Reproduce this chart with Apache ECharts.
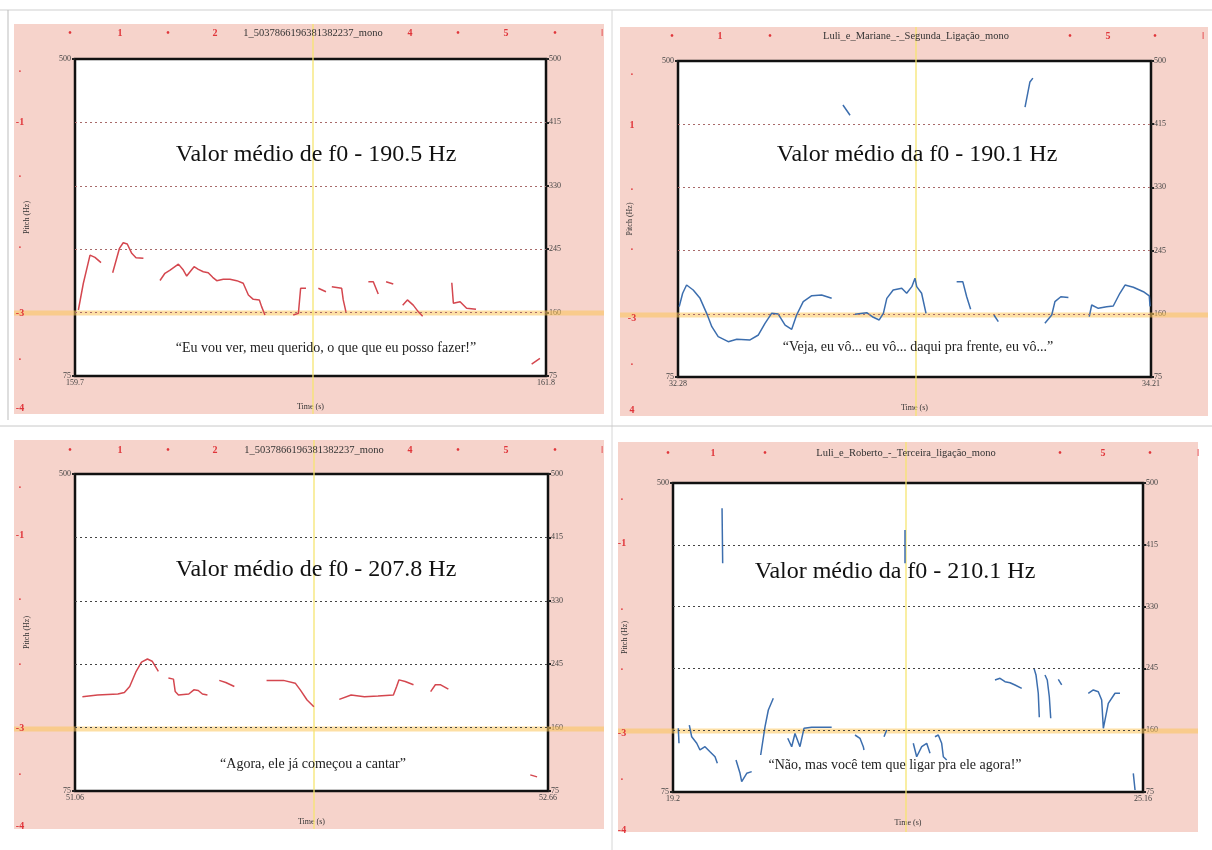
<!DOCTYPE html>
<html lang="pt">
<head>
<meta charset="UTF-8">
<title>Valor médio de f0</title>
<script src="https://cdn.jsdelivr.net/npm/echarts@6/dist/echarts.min.js"></script>
<style>
    html, body { margin: 0; padding: 0; background: #fff; }
    #main { width: 1212px; height: 850px; }
</style>
</head>
<body>
<div id="main"></div>
<script>
// pitch axis (Hz)
const hzTicks = [75, 160, 245, 330, 415, 500];
const hzEnds = [75, 500];
const hzGrid = [160, 245, 330, 415];

// 1 - top left
const tlRange = [159.7, 161.8];
const tlTime = [159.715,159.737,159.767,159.789,159.816, null,
    159.868,159.898,159.915,159.933,159.953,159.972,160.005, null,
    160.079,160.101,160.124,160.161,160.183,160.198,160.213,160.231,160.250,160.272,160.294,
    160.314,160.332,160.361,160.391,160.421,160.450,160.473,160.495,160.522,160.532,160.547, null,
    160.673,160.696,160.706,160.730, null, 160.785,160.819, null,
    160.845,160.889,160.896,160.908, null, 161.008,161.030,161.052, null, 161.087,161.119, null,
    161.161,161.182,161.208,161.231,161.250, null, 161.380,161.387,161.417,161.446,161.488, null,
    161.736,161.773];
const tlHz = [163.5,199,237,234,227, null,
    213.5,246,253.7,252,239.5,233.6,232.8, null,
    203,212.7,217,225,217,209,214.8,221.5,218,214.8,213.5,
    207.3,202.8,204.6,204.6,202.8,199.3,183.6,177.8,177,168,156.8, null,
    156.8,159,192.6,192.6, null, 192.6,188, null,
    194.7,192.6,177,161, null, 201.4,201.4,185, null, 201.4,198.3, null,
    170,177,170,161,155, null, 200,172.5,174.6,165.8,164.4, null,
    91,98.7];

// 2 - top right
const trRange = [32.28, 34.21];
const trTime = [32.285,32.299,32.315,32.342,32.370,32.397,32.418,32.444,32.485,32.520,32.574,
    32.608,32.635,32.662,32.689,32.717,32.744,32.764,32.791,32.826,32.866,32.907, null,
    32.953,32.982, null,
    33.002,33.050,33.077,33.101,33.118,33.132,33.158,33.193,33.213,33.234,33.247,33.254,33.274,33.292, null,
    33.417,33.442,33.458,33.474, null, 33.569,33.587, null, 33.696,33.716,33.728, null,
    33.777,33.805,33.818,33.842,33.873, null,
    33.958,33.968,33.995,34.029,34.056,34.083,34.104,34.138,34.179,34.203,34.206];
const trHz = [169.6,187.6,198.7,192,180.8,160.6,142.7,129.2,122.5,125.7,124.8,
    131.5,147.2,160.6,159.7,144.9,139.1,158.4,176.3,184.3,185.3,180.8, null,
    440.8,427, null,
    159.3,161.5,155.3,151.7,160.6,180.8,192,194.3,187.6,196.5,207.8,196.5,187.6,160.6, null,
    203.2,203.2,183,166, null, 158.4,149.4, null, 438,471.8,477, null,
    147.2,158.4,176.3,183,182, null,
    156.1,171.8,167.4,169.6,170.5,187.6,198.7,195.7,189.7,184,170];

// 3 - bottom left
const blRange = [51.06, 52.66];
const blTime = [51.085,51.136,51.205,51.227,51.245,51.267,51.285,51.305,51.321,51.342, null,
    51.376,51.393,51.399,51.410,51.445,51.462,51.477,51.491,51.508, null,
    51.548,51.570,51.599, null, 51.708,51.765,51.805,51.822,51.845,51.868, null,
    51.954,51.994,52.039,52.085,52.137,52.148,52.156,52.177,52.205, null,
    52.263,52.279,52.297,52.323, null, 52.600,52.623];
const blHz = [201.5,203.8,205,207,215,235.5,247.7,252,249,235.5, null,
    226.4,225,208.3,203.8,205,210.6,209.7,205,203.8, null,
    223.3,220.5,215.1, null, 223.3,223.3,219.6,210.6,197,188, null,
    197.9,203.8,201.5,202.4,203.8,215,224,221.8,217.4, null,
    208.3,217.4,217.4,211.5, null, 96.6,93.9];

// 4 - bottom right
const brRange = [19.2, 25.16];
const brTime = [19.267,19.276, null,
    19.407,19.437,19.501,19.542,19.606,19.669,19.733,19.762, null,
    19.999,20.050,20.071,20.135,20.198, null, 20.312,20.367,20.409,20.472, null,
    20.655,20.705,20.747,20.810,20.861,20.959,21.086,21.212, null,
    21.508,21.571,21.613,21.622, null, 21.876,21.910, null,
    22.142,22.142, null, 19.822,19.830, null,
    22.247,22.290,22.354,22.417,22.459, null, 22.522,22.564,22.607,22.628,22.671, null,
    23.283,23.347,23.410,23.474,23.537,23.622, null, 23.778,23.803,23.832,23.845, null,
    23.917,23.946,23.972,23.990, null, 24.086,24.129, null,
    24.466,24.530,24.593,24.636,24.657,24.720,24.805,24.868, null, 25.037,25.059];
const brHz = [162.6,142, null,
    167.1,151,142,132.8,137.3,130.4,123.5,114.4, null,
    119,100.7,89.2,100.7,103, null, 125.9,164.8,187.8,203.9, null,
    148.9,137.3,155.5,137.3,162.6,164,164,164, null,
    153.4,148.9,137.3,132.8, null, 151,160.3, null,
    435.4,389.5, null, 465.2,389.5, null,
    142,123.5,137.3,142,128.2, null, 151,153.4,142,123.5,119, null,
    229,231.4,226.7,225.3,222.2,217.6, null, 245,236,210.8,177.7, null,
    236,229,206,176.4, null, 230,222.2, null,
    210.8,215.3,213,201.5,162.6,197,210.8,210.8, null, 100.7,77.8];

const serif = '"Liberation Serif", "DejaVu Serif", serif';
const red = '#d4474f';
const blue = '#3c6eae';

const panels = [
    {time: tlTime, hz: tlHz, range: tlRange, color: red, dots: '#a86a6a',
     box: [75, 59, 471, 317], pink: [14, 24, 590, 390], cx: 313, cy: 313,
     file: '1_5037866196381382237_mono', fileY: 33,
     mean: 'Valor médio de f0 - 190.5 Hz', meanPos: [316, 155],
     quote: '“Eu vou ver, meu querido, o que que eu posso fazer!”', quotePos: [326, 348]},
    {time: trTime, hz: trHz, range: trRange, color: blue, dots: '#a86a6a',
     box: [678, 61, 473, 316], pink: [620, 27, 588, 389], cx: 916, cy: 315,
     file: 'Luli_e_Mariane_-_Segunda_Ligação_mono', fileY: 36,
     mean: 'Valor médio da f0 - 190.1 Hz', meanPos: [917, 155],
     quote: '“Veja, eu vô... eu vô... daqui pra frente, eu vô...”', quotePos: [918, 347]},
    {time: blTime, hz: blHz, range: blRange, color: red, dots: '#444',
     box: [75, 474, 473, 317], pink: [14, 440, 590, 389], cx: 314, cy: 729,
     file: '1_5037866196381382237_mono', fileY: 450,
     mean: 'Valor médio de f0 - 207.8 Hz', meanPos: [316, 570],
     quote: '“Agora, ele já começou a cantar”', quotePos: [313, 764]},
    {time: brTime, hz: brHz, range: brRange, color: blue, dots: '#444',
     box: [673, 483, 470, 309], pink: [618, 442, 580, 390], cx: 906, cy: 731,
     file: 'Luli_e_Roberto_-_Terceira_ligação_mono', fileY: 453,
     mean: 'Valor médio da f0 - 210.1 Hz', meanPos: [895, 572],
     quote: '“Não, mas você tem que ligar pra ele agora!”', quotePos: [895, 765]}
];

// red ruler marks in the margins of the scanned page
const topMarks = [
    [33, [[70,'•'],[120,'1'],[168,'•'],[215,'2'],[410,'4'],[458,'•'],[506,'5'],[555,'•'],[602,'ǀ']]],
    [36, [[672,'•'],[720,'1'],[770,'•'],[1070,'•'],[1108,'5'],[1155,'•'],[1203,'ǀ']]],
    [450, [[70,'•'],[120,'1'],[168,'•'],[215,'2'],[410,'4'],[458,'•'],[506,'5'],[555,'•'],[602,'ǀ']]],
    [453, [[668,'•'],[713,'1'],[765,'•'],[1060,'•'],[1103,'5'],[1150,'•'],[1198,'ǀ']]]
];
const sideMarks = [
    [20, [[72,'·'],[122,'-1'],[177,'·'],[248,'·'],[313,'-3'],[360,'·'],[408,'-4']]],
    [632, [[75,'·'],[125,'1'],[190,'·'],[250,'·'],[318,'-3'],[365,'·'],[410,'4']]],
    [20, [[488,'·'],[535,'-1'],[600,'·'],[665,'·'],[728,'-3'],[775,'·'],[826,'-4']]],
    [622, [[500,'·'],[543,'-1'],[610,'·'],[670,'·'],[733,'-3'],[780,'·'],[830,'-4']]]
];

function pairs(t, h) {
    return t.map((v, i) => [v, h[i]]);
}

function init() {
    let myChart = echarts.init(document.getElementById('main'), null, {renderer: 'canvas'});
    let grid = [], xAxis = [], yAxis = [], series = [], graphic = [];

    // scanned page edges
    graphic.push({type: 'line', shape: {x1: 0, y1: 10, x2: 1212, y2: 10}, style: {stroke: '#cfcfcf', lineWidth: 1}, z: -10});
    graphic.push({type: 'line', shape: {x1: 8, y1: 10, x2: 8, y2: 420}, style: {stroke: '#bdbdbd', lineWidth: 1}, z: -10});
    graphic.push({type: 'line', shape: {x1: 612, y1: 10, x2: 612, y2: 850}, style: {stroke: '#d6d6d6', lineWidth: 1}, z: -10});
    graphic.push({type: 'line', shape: {x1: 0, y1: 426, x2: 1212, y2: 426}, style: {stroke: '#c8c8c8', lineWidth: 1}, z: -10});

    panels.forEach((p, i) => {
        const [l, t, w, h] = p.box;
        grid.push({left: l, top: t, width: w, height: h, containLabel: false, outerBoundsMode: 'none',
            show: true, backgroundColor: '#fff', borderColor: '#111', borderWidth: 2.5});
        xAxis.push({
            type: 'value', gridIndex: i, min: p.range[0], max: p.range[1],
            axisLine: {show: false}, axisTick: {show: false}, splitLine: {show: false},
            axisLabel: {customValues: p.range, formatter: v => String(v), fontSize: 8, color: '#444',
                fontFamily: serif, margin: 3},
            name: 'Time (s)', nameLocation: 'middle', nameGap: 27,
            nameTextStyle: {fontSize: 8, color: '#333', fontFamily: serif}
        });
        yAxis.push({
            type: 'value', gridIndex: i, min: 75, max: 500, position: 'left',
            axisLine: {show: false}, splitLine: {show: false},
            axisTick: {show: true, customValues: hzEnds, length: 3, lineStyle: {color: '#222', width: 2}},
            axisLabel: {customValues: hzEnds, fontSize: 8, color: '#444', fontFamily: serif, margin: 4},
            name: 'Pitch (Hz)', nameLocation: 'middle', nameRotate: 90, nameGap: 44,
            nameTextStyle: {fontSize: 8, color: '#333', fontFamily: serif}
        });
        yAxis.push({
            type: 'value', gridIndex: i, min: 75, max: 500, position: 'right',
            axisLine: {show: false}, splitLine: {show: false},
            axisTick: {show: true, customValues: hzTicks, length: 3, lineStyle: {color: '#222', width: 2}},
            axisLabel: {customValues: hzTicks, fontSize: 8, color: '#444', fontFamily: serif, margin: 3}
        });
        series.push({
            type: 'line', xAxisIndex: i, yAxisIndex: 2 * i,
            data: pairs(p.time, p.hz),
            showSymbol: false, connectNulls: false, animation: false, silent: true,
            lineStyle: {color: p.color, width: 1.5},
            markLine: {
                silent: true, symbol: 'none', animation: false,
                label: {show: false},
                lineStyle: {type: [2, 3], color: p.dots, width: 1},
                data: hzGrid.map(v => ({yAxis: v}))
            }
        });

        // pink page background
        graphic.push({type: 'rect', shape: {x: p.pink[0], y: p.pink[1], width: p.pink[2], height: p.pink[3]},
            style: {fill: '#f6d3cb'}, z: -5});
        // yellow cursor lines
        graphic.push({type: 'line', shape: {x1: p.pink[0], y1: p.cy, x2: p.pink[0] + p.pink[2], y2: p.cy},
            style: {stroke: 'rgba(252,196,90,0.55)', lineWidth: 5}, z: 1});
        graphic.push({type: 'line', shape: {x1: p.cx, y1: p.pink[1], x2: p.cx, y2: p.pink[1] + p.pink[3]},
            style: {stroke: 'rgba(246,228,110,0.85)', lineWidth: 1.5}, z: 1});
        // file name
        graphic.push({type: 'text', x: p.cx, y: p.fileY, z: 5,
            style: {text: p.file, fill: '#333', font: '10.5px ' + serif, textAlign: 'center', textVerticalAlign: 'middle'}});
        // mean f0
        graphic.push({type: 'text', x: p.meanPos[0], y: p.meanPos[1], z: 5,
            style: {text: p.mean, fill: '#111', font: '24px ' + serif, textAlign: 'center', textVerticalAlign: 'middle'}});
        // sentence
        graphic.push({type: 'text', x: p.quotePos[0], y: p.quotePos[1], z: 5,
            style: {text: p.quote, fill: '#222', font: '14px ' + serif, textAlign: 'center', textVerticalAlign: 'middle'}});
    });

    topMarks.forEach(([y, marks]) => marks.forEach(([x, s]) => {
        graphic.push({type: 'text', x: x, y: y, z: 5,
            style: {text: s, fill: '#e0353a', font: 'bold 10px ' + serif, textAlign: 'center', textVerticalAlign: 'middle'}});
    }));
    sideMarks.forEach(([x, marks]) => marks.forEach(([y, s]) => {
        graphic.push({type: 'text', x: x, y: y, z: 5,
            style: {text: s, fill: '#e0353a', font: 'bold 10px ' + serif, textAlign: 'center', textVerticalAlign: 'middle'}});
    }));

    const option = {
        backgroundColor: '#fff',
        animation: false,
        grid: grid,
        xAxis: xAxis,
        yAxis: yAxis,
        series: series,
        graphic: graphic
    };
    myChart.setOption(option);
}

init();
</script>
</body>
</html>
